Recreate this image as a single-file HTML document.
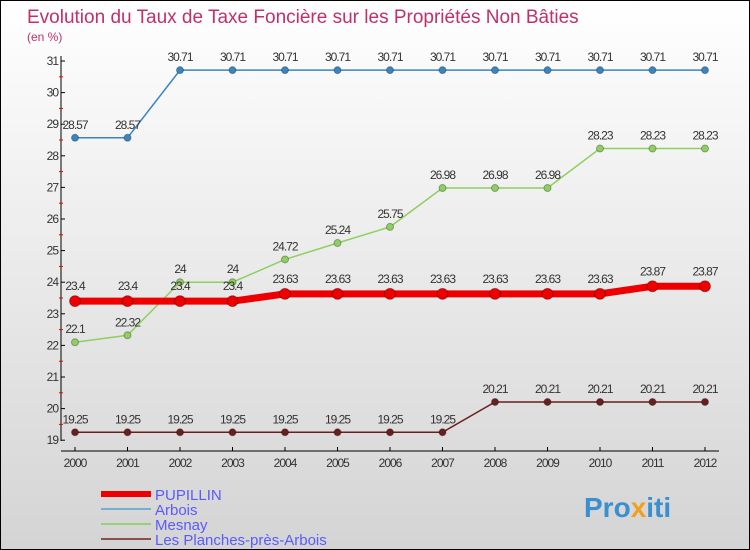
<!DOCTYPE html>
<html><head><meta charset="utf-8"><style>
body{margin:0}
#c{width:748px;height:548px;border:1px solid #000;background:linear-gradient(#fff,#d4d4d4);position:relative;font-family:"Liberation Sans",sans-serif;overflow:hidden}
</style></head><body>
<div id="c">
<svg id="s" width="748" height="548" xmlns="http://www.w3.org/2000/svg">
<text x="26" y="22" font-size="19" fill="#c0306a">Evolution du Taux de Taxe Foncière sur les Propriétés Non Bâties</text>
<text x="26" y="40" font-size="12" fill="#c0306a">(en %)</text>
<text x="583" y="516" font-size="28" font-weight="bold" fill="#3a8fd0">Pro<tspan fill="#f0a020">x</tspan>iti</text>
</svg></div>
<script>
const years=["2000","2001","2002","2003","2004","2005","2006","2007","2008","2009","2010","2011","2012"];
const pupillin=[23.4,23.4,23.4,23.4,23.63,23.63,23.63,23.63,23.63,23.63,23.63,23.87,23.87];
const arbois=[28.57,28.57,30.71,30.71,30.71,30.71,30.71,30.71,30.71,30.71,30.71,30.71,30.71];
const mesnay=[22.1,22.32,24,24,24.72,25.24,25.75,26.98,26.98,26.98,28.23,28.23,28.23];
const planches=[19.25,19.25,19.25,19.25,19.25,19.25,19.25,19.25,20.21,20.21,20.21,20.21,20.21];
const yTicks=[19,20,21,22,23,24,25,26,27,28,29,30,31];
const s=document.getElementById('s');const NS='http://www.w3.org/2000/svg';
const X=i=>74+i*52.5, Y=v=>60+(31-v)*31.6;
function mk(t,a,p){const e=document.createElementNS(NS,t);for(const k in a)e.setAttribute(k,a[k]);(p||s).appendChild(e);return e;}
let e;
e=mk('line',{x1:60,y1:55,x2:60,y2:440,stroke:'#000'});


e=mk('line',{x1:60,y1:450,x2:718,y2:450,stroke:'#000'});


yTicks.forEach(v=>{mk('line',{x1:60,y1:Y(v),x2:64,y2:Y(v),stroke:'#000'});
if(v<31)mk('line',{x1:58,y1:Y(v+0.5),x2:62,y2:Y(v+0.5),stroke:'#e00'});
e=mk('text',{x:57,y:Y(v)+4,'font-size':12,'text-anchor':'end',fill:'#333','letter-spacing':'-1'});e.textContent=v;

});
years.forEach((y,i)=>{mk('line',{x1:X(i),y1:446,x2:X(i),y2:450,stroke:'#000'});
e=mk('text',{x:X(i),y:466,'font-size':12,'text-anchor':'middle',fill:'#333','letter-spacing':'-1'});e.textContent=y;

});
function series(vals,col,w,r,name,labOff){
const g=mk('g',{});


mk('polyline',{points:vals.map((v,i)=>X(i)+','+Y(v)).join(' '),fill:'none',stroke:col,'stroke-width':w},g);
vals.forEach((v,i)=>{const c=mk('circle',{cx:X(i),cy:Y(v),r:r,fill:col,stroke:'rgba(0,0,0,0.3)'},g);


const t=mk('text',{x:X(i),y:Y(v)-labOff,'font-size':12,'text-anchor':'middle',fill:'#333','letter-spacing':'-1'},g);t.textContent=v;

});}
series(planches,'#6b1e1e',1.5,3.5,'planches',9);
series(mesnay,'#8ed060',1.5,3.5,'mesnay',9);
series(arbois,'#3a85c0',1.5,3.5,'arbois',9);
series(pupillin,'#ee0000',7,5.5,'pupillin',11);
const leg=[['PUPILLIN','#ee0000',6],['Arbois','#7aaed0',2],['Mesnay','#98d078',2],['Les Planches-près-Arbois','#8a5050',2]];
leg.forEach((l,i)=>{const y=493+i*15;const g=mk('g',{});


mk('line',{x1:100,y1:y,x2:150,y2:y,stroke:l[1],'stroke-width':l[2]},g);
const t=mk('text',{x:154,y:y+6,'font-size':15,fill:'#5a5aff'},g);t.textContent=l[0];});
</script></body></html>
